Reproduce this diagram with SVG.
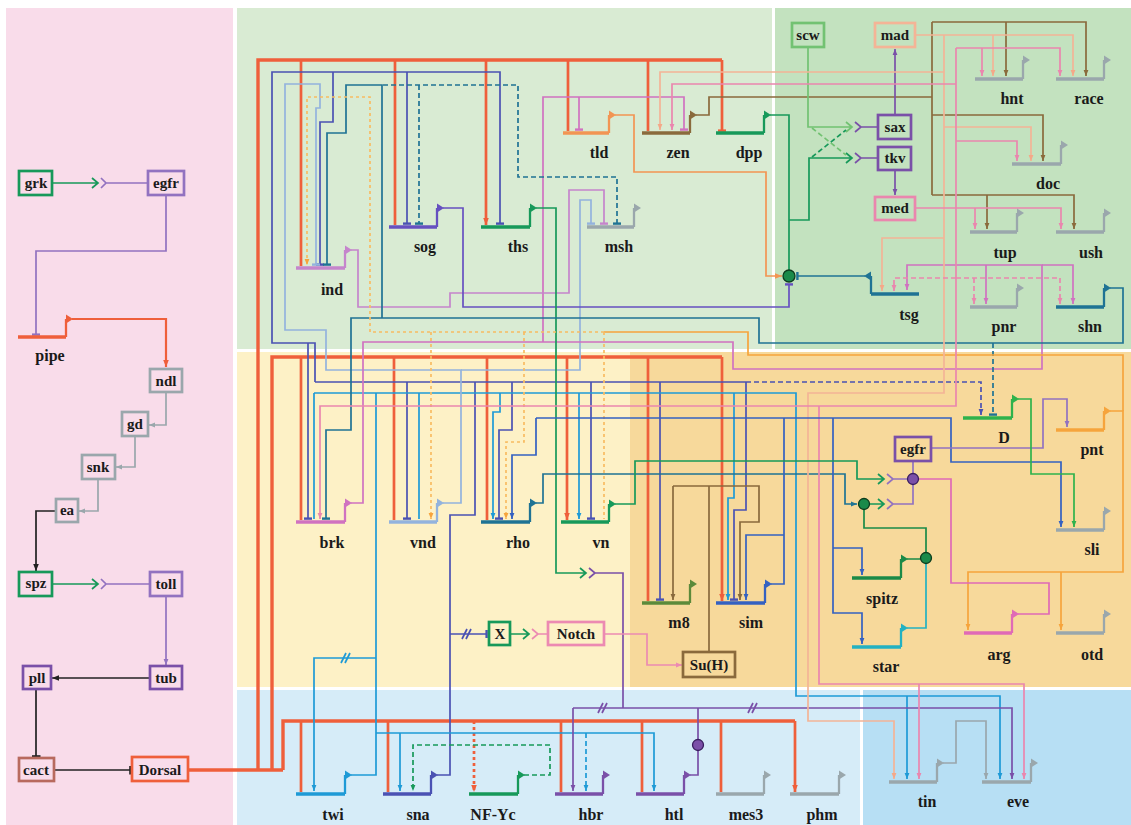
<svg xmlns="http://www.w3.org/2000/svg" xmlns:xlink="http://www.w3.org/1999/xlink" width="1131" height="825" viewBox="0 0 1131 825">
<style>
.l{fill:none;stroke-width:1.7}
.w{stroke-width:2.7}
.W{stroke-width:3.4}
.d{stroke-dasharray:5 3}
.o{stroke-dasharray:3 3}
.bar{stroke-width:3.3;fill:none}
.pr{stroke-width:2.3;fill:none}
.box{fill:none;stroke-width:2.7}
.t{font-family:"Liberation Serif",serif;font-weight:bold;font-size:16px;text-anchor:middle;fill:#1a1a1a}
.tb{font-family:"Liberation Serif",serif;font-weight:bold;font-size:15px;text-anchor:middle;fill:#1a1a1a}
.cR{stroke:#ef5f3b}.fR{fill:#ef5f3b}
.cSN{stroke:#4a52b3}.fSN{fill:#4a52b3}
.cTW{stroke:#1e9ad6}.fTW{fill:#1e9ad6}
.cVN{stroke:#93b3dd}.fVN{fill:#93b3dd}
.cBK{stroke:#d072c0}.fBK{fill:#d072c0}
.cIN{stroke:#c585cc}.fIN{fill:#c585cc}
.cSH{stroke:#1f7394}.fSH{fill:#1f7394}
.cPN{stroke:#f6a43c}.fPN{fill:#f6a43c}
.cPD{stroke:#f8bc62}
.cZN{stroke:#8a6a3c}.fZN{fill:#8a6a3c}
.cMD{stroke:#f4b496}.fMD{fill:#f4b496}
.cME{stroke:#ea86ae}.fME{fill:#ea86ae}
.cDP{stroke:#17995a}.fDP{fill:#17995a}
.cSC{stroke:#72c272}.fSC{fill:#72c272}
.cSM{stroke:#3461c1}.fSM{fill:#3461c1}
.cEG{stroke:#9272c0}.fEG{fill:#9272c0}
.cTL{stroke:#f29553}.fTL{fill:#f29553}
.cGY{stroke:#9aa7ac}.fGY{fill:#9aa7ac}
.cBL{stroke:#222}.fBL{fill:#222}
.cNO{stroke:#ec8ab2}.fNO{fill:#ec8ab2}
.cDG{stroke:#2fb24c}.fDG{fill:#2fb24c}
.cSP{stroke:#1b8a48}.fSP{fill:#1b8a48}
.cST{stroke:#23b1c2}.fST{fill:#23b1c2}
.cAR{stroke:#e06ab6}.fAR{fill:#e06ab6}
.cHT{stroke:#7a50a8}.fHT{fill:#7a50a8}
.cSO{stroke:#6650c0}.fSO{fill:#6650c0}
.cM8{stroke:#5c8a3a}.fM8{fill:#5c8a3a}
.cCA{stroke:#b86a5e}
</style>
<defs>
<path id="pa" d="M0,-4.5L7,0L0,4.5Z"/>
<marker id="aR" viewBox="0 0 10 10" refX="10" refY="5" markerWidth="7" markerHeight="7" markerUnits="userSpaceOnUse" orient="auto"><path d="M0,1L10,5L0,9z" fill="#ef5f3b"/></marker>
<marker id="bR" viewBox="0 0 10 10" refX="8" refY="5" markerWidth="8" markerHeight="8" markerUnits="userSpaceOnUse" orient="auto"><path d="M6,0h3v10h-3z" fill="#ef5f3b"/></marker>
<marker id="aSN" viewBox="0 0 10 10" refX="10" refY="5" markerWidth="6" markerHeight="6" markerUnits="userSpaceOnUse" orient="auto"><path d="M0,1L10,5L0,9z" fill="#4a52b3"/></marker>
<marker id="bSN" viewBox="0 0 10 10" refX="8" refY="5" markerWidth="8" markerHeight="8" markerUnits="userSpaceOnUse" orient="auto"><path d="M6,0h3v10h-3z" fill="#4a52b3"/></marker>
<marker id="aTW" viewBox="0 0 10 10" refX="10" refY="5" markerWidth="6" markerHeight="6" markerUnits="userSpaceOnUse" orient="auto"><path d="M0,1L10,5L0,9z" fill="#1e9ad6"/></marker>
<marker id="bVN" viewBox="0 0 10 10" refX="8" refY="5" markerWidth="8" markerHeight="8" markerUnits="userSpaceOnUse" orient="auto"><path d="M6,0h3v10h-3z" fill="#93b3dd"/></marker>
<marker id="aBK" viewBox="0 0 10 10" refX="10" refY="5" markerWidth="6" markerHeight="6" markerUnits="userSpaceOnUse" orient="auto"><path d="M0,1L10,5L0,9z" fill="#d072c0"/></marker>
<marker id="bBK" viewBox="0 0 10 10" refX="8" refY="5" markerWidth="8" markerHeight="8" markerUnits="userSpaceOnUse" orient="auto"><path d="M6,0h3v10h-3z" fill="#d072c0"/></marker>
<marker id="bIN" viewBox="0 0 10 10" refX="8" refY="5" markerWidth="8" markerHeight="8" markerUnits="userSpaceOnUse" orient="auto"><path d="M6,0h3v10h-3z" fill="#c585cc"/></marker>
<marker id="bSH" viewBox="0 0 10 10" refX="8" refY="5" markerWidth="8" markerHeight="8" markerUnits="userSpaceOnUse" orient="auto"><path d="M6,0h3v10h-3z" fill="#1f7394"/></marker>
<marker id="aSH" viewBox="0 0 10 10" refX="10" refY="5" markerWidth="6" markerHeight="6" markerUnits="userSpaceOnUse" orient="auto"><path d="M0,1L10,5L0,9z" fill="#1f7394"/></marker>
<marker id="aPN" viewBox="0 0 10 10" refX="10" refY="5" markerWidth="6" markerHeight="6" markerUnits="userSpaceOnUse" orient="auto"><path d="M0,1L10,5L0,9z" fill="#f6a43c"/></marker>
<marker id="aZN" viewBox="0 0 10 10" refX="10" refY="5" markerWidth="6" markerHeight="6" markerUnits="userSpaceOnUse" orient="auto"><path d="M0,1L10,5L0,9z" fill="#8a6a3c"/></marker>
<marker id="aMD" viewBox="0 0 10 10" refX="10" refY="5" markerWidth="6" markerHeight="6" markerUnits="userSpaceOnUse" orient="auto"><path d="M0,1L10,5L0,9z" fill="#f4a888"/></marker>
<marker id="aME" viewBox="0 0 10 10" refX="10" refY="5" markerWidth="6" markerHeight="6" markerUnits="userSpaceOnUse" orient="auto"><path d="M0,1L10,5L0,9z" fill="#ea86ae"/></marker>
<marker id="aSM" viewBox="0 0 10 10" refX="10" refY="5" markerWidth="6" markerHeight="6" markerUnits="userSpaceOnUse" orient="auto"><path d="M0,1L10,5L0,9z" fill="#3461c1"/></marker>
<marker id="aEG" viewBox="0 0 10 10" refX="10" refY="5" markerWidth="6" markerHeight="6" markerUnits="userSpaceOnUse" orient="auto"><path d="M0,1L10,5L0,9z" fill="#9272c0"/></marker>
<marker id="bEG" viewBox="0 0 10 10" refX="8" refY="5" markerWidth="8" markerHeight="8" markerUnits="userSpaceOnUse" orient="auto"><path d="M6,0h3v10h-3z" fill="#9272c0"/></marker>
<marker id="aTL" viewBox="0 0 10 10" refX="10" refY="5" markerWidth="7" markerHeight="7" markerUnits="userSpaceOnUse" orient="auto"><path d="M0,1L10,5L0,9z" fill="#f29553"/></marker>
<marker id="aGY" viewBox="0 0 10 10" refX="10" refY="5" markerWidth="6" markerHeight="6" markerUnits="userSpaceOnUse" orient="auto"><path d="M0,1L10,5L0,9z" fill="#9aa7ac"/></marker>
<marker id="aBL" viewBox="0 0 10 10" refX="10" refY="5" markerWidth="7" markerHeight="7" markerUnits="userSpaceOnUse" orient="auto"><path d="M0,1L10,5L0,9z" fill="#222"/></marker>
<marker id="bBL" viewBox="0 0 10 10" refX="8" refY="5" markerWidth="9" markerHeight="9" markerUnits="userSpaceOnUse" orient="auto"><path d="M6,0h3v10h-3z" fill="#222"/></marker>
<marker id="aNO" viewBox="0 0 10 10" refX="10" refY="5" markerWidth="6" markerHeight="6" markerUnits="userSpaceOnUse" orient="auto"><path d="M0,1L10,5L0,9z" fill="#ec8ab2"/></marker>
<marker id="aDG" viewBox="0 0 10 10" refX="10" refY="5" markerWidth="6" markerHeight="6" markerUnits="userSpaceOnUse" orient="auto"><path d="M0,1L10,5L0,9z" fill="#2fb24c"/></marker>
<marker id="aDP" viewBox="0 0 10 10" refX="10" refY="5" markerWidth="6" markerHeight="6" markerUnits="userSpaceOnUse" orient="auto"><path d="M0,1L10,5L0,9z" fill="#17995a"/></marker>
<marker id="aHT" viewBox="0 0 10 10" refX="10" refY="5" markerWidth="6" markerHeight="6" markerUnits="userSpaceOnUse" orient="auto"><path d="M0,1L10,5L0,9z" fill="#7a50a8"/></marker>
<marker id="bSO" viewBox="0 0 10 10" refX="8" refY="5" markerWidth="8" markerHeight="8" markerUnits="userSpaceOnUse" orient="auto"><path d="M6,0h3v10h-3z" fill="#6650c0"/></marker>
</defs>

<g id="background">
<rect width="1131" height="825" fill="#ffffff"/>
<rect x="6" y="8" width="227" height="817" fill="#f9dcea"/>
<rect x="237" y="8" width="535" height="341" fill="#d9ebd3"/>
<rect x="775" y="8" width="356" height="341" fill="#c3e2bf"/>
<rect x="237" y="352" width="393" height="335" fill="#fdf1c6"/>
<rect x="630" y="352" width="501" height="335" fill="#f7d99b"/>
<rect x="237" y="690" width="623" height="135" fill="#d6ecf8"/>
<rect x="863" y="690" width="268" height="135" fill="#b7dff4"/>
</g>

<g id="connectors" fill="none">
<path class="l cDP" d="M53,183H97M92,178L98,183L92,188"/>
<path class="l cEG" d="M101,178L106,183L101,188M105,183H148"/>
<path class="l cEG" d="M166,195V251H36V335" marker-end="url(#bEG)"/>
<path class="l cR" style="stroke-width:2.2" d="M72,319H166V367" marker-end="url(#aR)"/>
<path class="l cGY" d="M166,392V425H149" marker-end="url(#aGY)"/>
<path class="l cGY" d="M135,436V467H116" marker-end="url(#aGY)"/>
<path class="l cGY" d="M98,479V511H79" marker-end="url(#aGY)"/>
<path class="l cBL" d="M56,511H36V571" marker-end="url(#aBL)"/>
<path class="l cDP" d="M52,584H97M92,579L98,584L92,589"/>
<path class="l cEG" d="M101,579L106,584L101,589M105,584H150"/>
<path class="l cEG" d="M166,596V665" marker-end="url(#aEG)"/>
<path class="l cBL" d="M150,678H52" marker-end="url(#aBL)"/>
<path class="l cBL" d="M36,689V757" marker-end="url(#bBL)"/>
<path class="l cBL" d="M54,770H131" marker-end="url(#bBL)"/>

<path class="l W cR" d="M188,770H283M258,770V60H722M272,770V357H722M283,770V721H795"/>
<path class="l w cR" d="M301,60V266M395,60V225M486,60V225" marker-end="url(#aR)"/>
<path class="l w cR" d="M568,60V131M648,60V131M722,60V131" marker-end="url(#bR)"/>
<path class="l w cR" d="M301,357V520M394,357V520M487,357V520M567,357V520" marker-end="url(#aR)"/>
<path class="l w cR" d="M648,357V601M722,357V601" marker-end="url(#aR)"/>
<path class="l w cR" d="M301,721V792M388,721V792M561,721V792M642,721V792M721,721V792M795,721V792" marker-end="url(#aR)"/>
<path class="l w cR o" d="M474,721V792" marker-end="url(#aR)"/>

<path class="l cSN" d="M437,775H450V515H475V382M315,382H746"/>
<path class="l cSN d" d="M746,382H981V415" marker-end="url(#aSN)"/>
<path class="l cSN" d="M315,382V343H272V72H500V224" marker-end="url(#bSN)"/>
<path class="l cSN" d="M333,72V122H320V265" marker-end="url(#bSN)"/>
<path class="l cSN" d="M407,72V224" marker-end="url(#bSN)"/>
<path class="l cSN" d="M308,343V519" marker-end="url(#bSN)"/>
<path class="l cSN" d="M407,382V519" marker-end="url(#bSN)"/>
<path class="l cSN" d="M512,382V430H499V519" marker-end="url(#bSN)"/>
<path class="l cSN" d="M591,382V519" marker-end="url(#bSN)"/>
<path class="l cSN" d="M660,382V600" marker-end="url(#bSN)"/>
<path class="l cSN" d="M746,382V510H734V600" marker-end="url(#bSN)"/>
<path class="l cSN" d="M450,634H487" marker-end="url(#bSN)"/>
<path class="l cSN" d="M462,639L467,629M466,639L471,629"/>

<path class="l cTW" d="M351,775H376V393"/>
<path class="l cTW" d="M314,393H796V696H1000V779" marker-end="url(#aTW)"/>
<path class="l cTW" d="M314,393V519M419,393V519M579,393V519" marker-end="url(#aTW)"/>
<path class="l cTW" d="M500,393V412H493V519" marker-end="url(#aTW)"/>
<path class="l cTW" d="M734,393V498H728V600" marker-end="url(#aTW)"/>
<path class="l cTW" d="M907,696V779" marker-end="url(#aTW)"/>
<path class="l cTW" d="M376,658H314V791" marker-end="url(#aTW)"/>
<path class="l cTW" d="M341,663L346,653M345,663L350,653"/>
<path class="l cTW" d="M376,733H654V791" marker-end="url(#aTW)"/>
<path class="l cTW" d="M400,733V791" marker-end="url(#aTW)"/>
<path class="l cTW d" d="M586,733V791" marker-end="url(#aTW)"/>

<path class="l cVN" d="M443,503H461V370H326V330H285V84H320V108H316V265" marker-end="url(#bVN)"/>
<path class="l cVN" d="M461,370H580V200H591V224" marker-end="url(#bVN)"/>

<path class="l cBK" d="M351,503H363V342H733V369H1042V265H907V290" marker-end="url(#aBK)"/>
<path class="l cBK" d="M543,342V97H684V130" marker-end="url(#bBK)"/>
<path class="l cBK" d="M579,97V130" marker-end="url(#bBK)"/>
<path class="l cBK" d="M986,265V304" marker-end="url(#aBK)"/>
<path class="l cBK" d="M1042,265H1073V304" marker-end="url(#aBK)"/>

<path class="l cIN" d="M351,250H358V307H450V293H569V190H604V224" marker-end="url(#bIN)"/>

<path class="l cSO" d="M443,208H463V307H789V284" marker-end="url(#bSO)"/>

<path class="l cDP" d="M536,208H556V573H586M580,568L586,573L580,578"/>
<path class="l cHT" d="M589,568L595,573L589,578M594,573H623V708"/>
<path class="l cHT" d="M573,708H1012V779" marker-end="url(#aHT)"/>
<path class="l cHT" d="M573,708V791" marker-end="url(#aHT)"/>
<path class="l cHT" d="M690,775H698V751M698,740V708"/>
<path class="l cHT" d="M598,713L603,703M602,713L607,703M748,713L753,703M752,713L757,703"/>

<path class="l cSH" d="M1110,288H1123V343H759V318H351V430H326V519" marker-end="url(#bSH)"/>
<path class="l cSH" d="M382,318V85H346V133H327V265" marker-end="url(#bSH)"/>
<path class="l cSH d" d="M383,85H518V177H617V224" marker-end="url(#bSH)"/>
<path class="l cSH d" d="M419,85V224" marker-end="url(#bSH)"/>
<path class="l cSH d" d="M993,343V415" marker-end="url(#bSH)"/>
<path class="l cSH" d="M865,276H797" marker-end="url(#bSH)"/>
<path class="l cSH" d="M536,503H543V474H845V504H857" marker-end="url(#aSH)"/>

<path class="l cPN" d="M1110,411H1123V572H968V630" marker-end="url(#aPN)"/>
<path class="l cPN" d="M1061,572V630" marker-end="url(#aPN)"/>
<path class="l cPN" d="M1123,411V355H748V332H604"/>
<path class="l cPD o" d="M604,332H370V97H307V265" marker-end="url(#aPN)"/>
<path class="l cPD o" d="M604,332V519M431,332V519" marker-end="url(#aPN)"/>
<path class="l cPD o" d="M524,332V442H506V519" marker-end="url(#aPN)"/>

<path class="l cTL" d="M615,115H634V172H766V276H782" marker-end="url(#aTL)"/>

<path class="l cZN" d="M696,115H709V97H932M932,22V195"/>
<path class="l cZN" d="M932,22H1086V76" marker-end="url(#aZN)"/>
<path class="l cZN" d="M1006,22V76" marker-end="url(#aZN)"/>
<path class="l cZN" d="M932,115H1043V161" marker-end="url(#aZN)"/>
<path class="l cZN" d="M932,195H1074V229" marker-end="url(#aZN)"/>
<path class="l cZN" d="M987,195V229" marker-end="url(#aZN)"/>

<path class="l cDP" d="M770,115H789V270M789,220H809V158H851M846,153L852,158L846,163"/>
<path class="l cSC" d="M808,47V127H851M846,122L852,127L846,132"/>
<path class="l cSC d" d="M812,128L846,155"/>
<path class="l cDP d" d="M812,157L846,130"/>
<path class="l cHT" d="M855,122L861,127L855,132M860,127H878M855,153L861,158L855,163M860,158H878"/>
<path class="l cHT" d="M895,115V49" marker-end="url(#aHT)"/>
<path class="l cHT" d="M895,170V195" marker-end="url(#aHT)"/>

<path class="l cMD" d="M915,35H1073V76" marker-end="url(#aMD)"/>
<path class="l cMD" d="M993,35V76" marker-end="url(#aMD)"/>
<path class="l cMD" d="M944,35V393H808V721H894V779" marker-end="url(#aMD)"/>
<path class="l cMD" d="M944,72H660V130" marker-end="url(#aMD)"/>
<path class="l cMD" d="M944,127H1031V161" marker-end="url(#aMD)"/>
<path class="l cMD" d="M944,238H882V291" marker-end="url(#aMD)"/>

<path class="l cME" d="M915,208H1061V229" marker-end="url(#aME)"/>
<path class="l cME" d="M975,208V229" marker-end="url(#aME)"/>
<path class="l cME" d="M956,48V406H320V519" marker-end="url(#aME)"/>
<path class="l cME" d="M956,48H1060V76" marker-end="url(#aME)"/>
<path class="l cME" d="M982,48V76" marker-end="url(#aME)"/>
<path class="l cME" d="M956,84H672V130" marker-end="url(#aME)"/>
<path class="l cME" d="M956,141H1017V161" marker-end="url(#aME)"/>
<path class="l cME" d="M819,406V684H1024V779" marker-end="url(#aME)"/>
<path class="l cME" d="M919,684V779" marker-end="url(#aME)"/>
<path class="l cME d" d="M956,278H894V291" marker-end="url(#aME)"/>
<path class="l cME d" d="M974,278V304" marker-end="url(#aME)"/>
<path class="l cME d" d="M956,278H1060V304" marker-end="url(#aME)"/>

<path class="l cSM" d="M771,584H784V418"/>
<path class="l cSM" d="M536,418H951V462H1061V527" marker-end="url(#aSM)"/>
<path class="l cSM" d="M536,418V455H512V519" marker-end="url(#aSM)"/>
<path class="l cSM" d="M784,535H746V600" marker-end="url(#aSM)"/>
<path class="l cSM" d="M833,418V613H862V644" marker-end="url(#aSM)"/>
<path class="l cSM" d="M833,548H862V575" marker-end="url(#aSM)"/>

<path class="l cDP" d="M615,504H635V461H857V479H884M878,474L884,479L878,484"/>
<path class="l cEG" d="M887,474L893,479L887,484M892,479H907"/>
<path class="l cDP" d="M870,504H884M878,499L884,504L878,509"/>
<path class="l cEG" d="M887,499L893,504L887,509M892,504H913V485M913,473V461"/>
<path class="l cEG" d="M931,448H1043V399H1067V427" marker-end="url(#aEG)"/>
<path class="l cAR" d="M1018,614H1049V583H951V479H919"/>
<path class="l cSP" d="M864,510V528H926V552M907,559H920"/>
<path class="l cST" d="M907,628H926V564"/>
<path class="l cDG" d="M1018,399H1031V474H1074V527" marker-end="url(#aDG)"/>

<path class="l cZN" d="M709,652V486M673,486V600" marker-end="url(#aZN)"/>
<path class="l cZN" d="M673,486H759V522H740V600" marker-end="url(#aZN)"/>
<path class="l cNO" d="M604,634H647V665H682" marker-end="url(#aNO)"/>
<path class="l cDP" d="M510,634H529M523,629L529,634L523,639"/>
<path class="l cNO" d="M532,629L538,634L532,639M537,634H548"/>

<path class="l cDP d" d="M524,775H550V745H413V791" marker-end="url(#aDP)"/>
<path class="l cGY" d="M943,763H956V721H986V779" marker-end="url(#aGY)"/>
</g>

<g id="junctions">
<circle id="j-dpp" cx="789" cy="276" r="6" fill="#1a8a4a" stroke="#0d3d1e" stroke-width="1.3"/>
<circle id="j-rho" cx="864" cy="504" r="5.5" fill="#1a8a4a" stroke="#0d3d1e" stroke-width="1.3"/>
<circle id="j-spi" cx="926" cy="558" r="5.5" fill="#1a8a4a" stroke="#0d3d1e" stroke-width="1.3"/>
<circle id="j-egfr" cx="913" cy="479" r="5.5" fill="#7b4fa8" stroke="#3a1f60" stroke-width="1.3"/>
<circle id="j-htl" cx="698" cy="745" r="5.5" fill="#7b4fa8" stroke="#3a1f60" stroke-width="1.3"/>
</g>

<g id="boxes">
<g id="n-grk"><rect class="box cDP" x="19" y="171" width="33" height="24"/><text class="tb" x="36" y="188">grk</text></g>
<g id="n-egfr1"><rect class="box cEG" x="148" y="171" width="36" height="24"/><text class="tb" x="166" y="188">egfr</text></g>
<g id="n-ndl"><rect class="box cGY" x="150" y="369" width="32" height="23"/><text class="tb" x="166" y="386">ndl</text></g>
<g id="n-gd"><rect class="box cGY" x="122" y="412" width="26" height="24"/><text class="tb" x="135" y="429">gd</text></g>
<g id="n-snk"><rect class="box cGY" x="82" y="455" width="33" height="24"/><text class="tb" x="98" y="472">snk</text></g>
<g id="n-ea"><rect class="box cGY" x="56" y="499" width="22" height="23"/><text class="tb" x="67" y="515">ea</text></g>
<g id="n-spz"><rect class="box cDP" x="19" y="572" width="33" height="24"/><text class="tb" x="36" y="588">spz</text></g>
<g id="n-toll"><rect class="box cEG" x="150" y="572" width="32" height="24"/><text class="tb" x="166" y="589">toll</text></g>
<g id="n-tub"><rect class="box cHT" x="150" y="666" width="32" height="23"/><text class="tb" x="166" y="683">tub</text></g>
<g id="n-pll"><rect class="box cHT" x="23" y="666" width="28" height="23"/><text class="tb" x="37" y="683">pll</text></g>
<g id="n-cact"><rect class="box cCA" x="19" y="758" width="35" height="23"/><text class="tb" x="36" y="775">cact</text></g>
<g id="n-Dorsal"><rect class="box cR" x="132" y="757" width="56" height="24"/><text class="tb" x="160" y="775">Dorsal</text></g>
<g id="n-scw"><rect class="box cSC" x="792" y="23" width="32" height="24"/><text class="tb" x="808" y="40">scw</text></g>
<g id="n-mad"><rect class="box cMD" x="875" y="23" width="40" height="24"/><text class="tb" x="895" y="40">mad</text></g>
<g id="n-sax"><rect class="box cHT" x="878" y="115" width="33" height="24"/><text class="tb" x="895" y="132">sax</text></g>
<g id="n-tkv"><rect class="box cHT" x="878" y="147" width="33" height="23"/><text class="tb" x="895" y="163">tkv</text></g>
<g id="n-med"><rect class="box cME" x="875" y="197" width="40" height="23"/><text class="tb" x="895" y="213">med</text></g>
<g id="n-egfr2"><rect class="box cHT" x="895" y="437" width="36" height="24"/><text class="tb" x="913" y="454">egfr</text></g>
<g id="n-X"><rect class="box cDP" x="489" y="622" width="21" height="23"/><text class="tb" x="500" y="639">X</text></g>
<g id="n-Notch"><rect class="box cNO" x="548" y="622" width="56" height="23"/><text class="tb" x="576" y="639">Notch</text></g>
<g id="n-SuH"><rect class="box cZN" x="683" y="652" width="52" height="25"/><text class="tb" x="709" y="670">Su(H)</text></g>
</g>

<g id="genes">
<g id="g-pipe"><path class="bar cR" d="M18,337H66"/><path class="pr cR" d="M66,337V319"/><use href="#pa" x="66" y="319" class="fR"/><text class="t" x="50" y="361">pipe</text></g>
<g id="g-ind"><path class="bar cIN" d="M296,268H345"/><path class="pr cIN" d="M345,268V250"/><use href="#pa" x="345" y="250" class="fIN"/><text class="t" x="332" y="295">ind</text></g>
<g id="g-sog"><path class="bar cSO" d="M389,227H437"/><path class="pr cSO" d="M437,227V208"/><use href="#pa" x="437" y="208" class="fSO"/><text class="t" x="425" y="252">sog</text></g>
<g id="g-ths"><path class="bar cDP" d="M481,227H530"/><path class="pr cDP" d="M530,227V208"/><use href="#pa" x="530" y="208" class="fDP"/><text class="t" x="518" y="252">ths</text></g>
<g id="g-msh"><path class="bar cGY" d="M587,227H634"/><path class="pr cGY" d="M634,227V208"/><use href="#pa" x="634" y="208" class="fGY"/><text class="t" x="619" y="252">msh</text></g>
<g id="g-tld"><path class="bar cTL" d="M563,133H609"/><path class="pr cTL" d="M609,133V115"/><use href="#pa" x="609" y="115" class="fTL"/><text class="t" x="599" y="158">tld</text></g>
<g id="g-zen"><path class="bar cZN" d="M642,133H690"/><path class="pr cZN" d="M690,133V115"/><use href="#pa" x="690" y="115" class="fZN"/><text class="t" x="678" y="158">zen</text></g>
<g id="g-dpp"><path class="bar cDP" d="M716,133H764"/><path class="pr cDP" d="M764,133V115"/><use href="#pa" x="764" y="115" class="fDP"/><text class="t" x="749" y="158">dpp</text></g>
<g id="g-hnt"><path class="bar cGY" d="M975,79H1023"/><path class="pr cGY" d="M1023,79V60"/><use href="#pa" x="1023" y="60" class="fGY"/><text class="t" x="1012" y="104">hnt</text></g>
<g id="g-race"><path class="bar cGY" d="M1056,79H1104"/><path class="pr cGY" d="M1104,79V60"/><use href="#pa" x="1104" y="60" class="fGY"/><text class="t" x="1089" y="104">race</text></g>
<g id="g-doc"><path class="bar cGY" d="M1012,164H1061"/><path class="pr cGY" d="M1061,164V145"/><use href="#pa" x="1061" y="145" class="fGY"/><text class="t" x="1048" y="189">doc</text></g>
<g id="g-tup"><path class="bar cGY" d="M970,232H1017"/><path class="pr cGY" d="M1017,232V213"/><use href="#pa" x="1017" y="213" class="fGY"/><text class="t" x="1005" y="258">tup</text></g>
<g id="g-ush"><path class="bar cGY" d="M1056,232H1104"/><path class="pr cGY" d="M1104,232V213"/><use href="#pa" x="1104" y="213" class="fGY"/><text class="t" x="1091" y="258">ush</text></g>
<g id="g-tsg"><path class="bar cSH" d="M871,294H919"/><path class="pr cSH" d="M871,294V276"/><use href="#pa" transform="translate(871,276) scale(-1,1)" class="fSH"/><text class="t" x="909" y="320">tsg</text></g>
<g id="g-pnr"><path class="bar cGY" d="M970,307H1017"/><path class="pr cGY" d="M1017,307V288"/><use href="#pa" x="1017" y="288" class="fGY"/><text class="t" x="1004" y="332">pnr</text></g>
<g id="g-shn"><path class="bar cSH" d="M1056,307H1104"/><path class="pr cSH" d="M1104,307V288"/><use href="#pa" x="1104" y="288" class="fSH"/><text class="t" x="1090" y="332">shn</text></g>
<g id="g-brk"><path class="bar cBK" d="M296,522H345"/><path class="pr cBK" d="M345,522V503"/><use href="#pa" x="345" y="503" class="fBK"/><text class="t" x="332" y="548">brk</text></g>
<g id="g-vnd"><path class="bar cVN" d="M389,522H437"/><path class="pr cVN" d="M437,522V503"/><use href="#pa" x="437" y="503" class="fVN"/><text class="t" x="423" y="548">vnd</text></g>
<g id="g-rho"><path class="bar cSH" d="M481,522H530"/><path class="pr cSH" d="M530,522V503"/><use href="#pa" x="530" y="503" class="fSH"/><text class="t" x="518" y="548">rho</text></g>
<g id="g-vn"><path class="bar cDP" d="M561,522H609"/><path class="pr cDP" d="M609,522V504"/><use href="#pa" x="609" y="504" class="fDP"/><text class="t" x="601" y="548">vn</text></g>
<g id="g-m8"><path class="bar cM8" d="M642,603H690"/><path class="pr cM8" d="M690,603V584"/><use href="#pa" x="690" y="584" class="fM8"/><text class="t" x="679" y="628">m8</text></g>
<g id="g-sim"><path class="bar cSM" d="M716,603H765"/><path class="pr cSM" d="M765,603V584"/><use href="#pa" x="765" y="584" class="fSM"/><text class="t" x="751" y="628">sim</text></g>
<g id="g-D"><path class="bar cDG" d="M963,418H1012"/><path class="pr cDG" d="M1012,418V399"/><use href="#pa" x="1012" y="399" class="fDG"/><text class="t" x="1004" y="443">D</text></g>
<g id="g-pnt"><path class="bar cPN" d="M1056,430H1104"/><path class="pr cPN" d="M1104,430V411"/><use href="#pa" x="1104" y="411" class="fPN"/><text class="t" x="1092" y="455">pnt</text></g>
<g id="g-sli"><path class="bar cGY" d="M1056,530H1104"/><path class="pr cGY" d="M1104,530V511"/><use href="#pa" x="1104" y="511" class="fGY"/><text class="t" x="1092" y="555">sli</text></g>
<g id="g-spitz"><path class="bar cSP" d="M852,578H901"/><path class="pr cSP" d="M901,578V559"/><use href="#pa" x="901" y="559" class="fSP"/><text class="t" x="882" y="604">spitz</text></g>
<g id="g-star"><path class="bar cST" d="M852,647H901"/><path class="pr cST" d="M901,647V628"/><use href="#pa" x="901" y="628" class="fST"/><text class="t" x="886" y="672">star</text></g>
<g id="g-arg"><path class="bar cAR" d="M964,633H1012"/><path class="pr cAR" d="M1012,633V614"/><use href="#pa" x="1012" y="614" class="fAR"/><text class="t" x="999" y="660">arg</text></g>
<g id="g-otd"><path class="bar cGY" d="M1056,633H1104"/><path class="pr cGY" d="M1104,633V614"/><use href="#pa" x="1104" y="614" class="fGY"/><text class="t" x="1092" y="660">otd</text></g>
<g id="g-twi"><path class="bar cTW" d="M296,794H345"/><path class="pr cTW" d="M345,794V775"/><use href="#pa" x="345" y="775" class="fTW"/><text class="t" x="333" y="820">twi</text></g>
<g id="g-sna"><path class="bar cSN" d="M383,794H431"/><path class="pr cSN" d="M431,794V775"/><use href="#pa" x="431" y="775" class="fSN"/><text class="t" x="418" y="820">sna</text></g>
<g id="g-NFYc"><path class="bar cDP" d="M469,794H518"/><path class="pr cDP" d="M518,794V775"/><use href="#pa" x="518" y="775" class="fDP"/><text class="t" x="493" y="820">NF-Yc</text></g>
<g id="g-hbr"><path class="bar cHT" d="M555,794H603"/><path class="pr cHT" d="M603,794V775"/><use href="#pa" x="603" y="775" class="fHT"/><text class="t" x="591" y="820">hbr</text></g>
<g id="g-htl"><path class="bar cHT" d="M636,794H684"/><path class="pr cHT" d="M684,794V775"/><use href="#pa" x="684" y="775" class="fHT"/><text class="t" x="674" y="820">htl</text></g>
<g id="g-mes3"><path class="bar cGY" d="M716,794H764"/><path class="pr cGY" d="M764,794V775"/><use href="#pa" x="764" y="775" class="fGY"/><text class="t" x="746" y="820">mes3</text></g>
<g id="g-phm"><path class="bar cGY" d="M790,794H839"/><path class="pr cGY" d="M839,794V775"/><use href="#pa" x="839" y="775" class="fGY"/><text class="t" x="822" y="820">phm</text></g>
<g id="g-tin"><path class="bar cGY" d="M889,782H937"/><path class="pr cGY" d="M937,782V763"/><use href="#pa" x="937" y="763" class="fGY"/><text class="t" x="927" y="807">tin</text></g>
<g id="g-eve"><path class="bar cGY" d="M982,782H1031"/><path class="pr cGY" d="M1031,782V763"/><use href="#pa" x="1031" y="763" class="fGY"/><text class="t" x="1018" y="807">eve</text></g>
</g>
</svg>
